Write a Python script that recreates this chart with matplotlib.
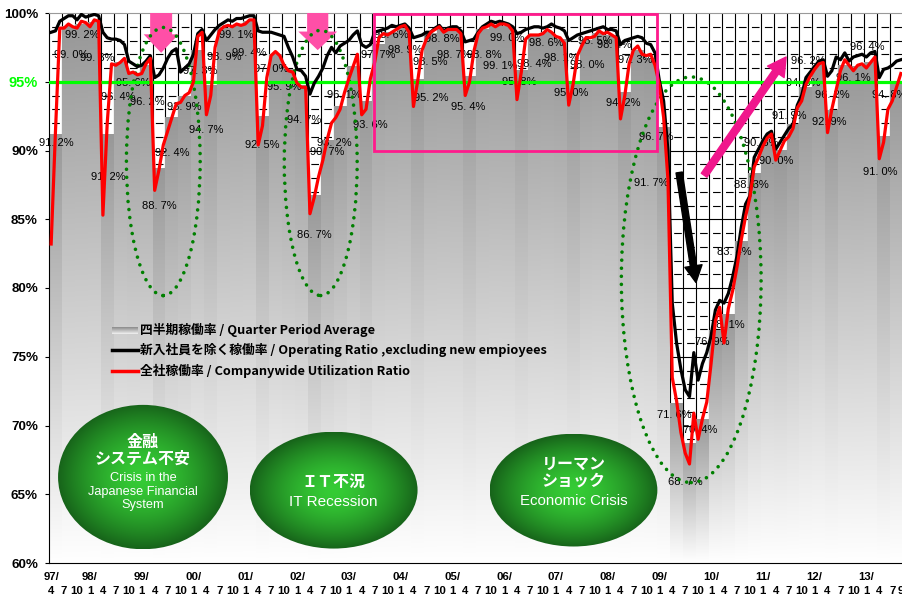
import numpy as np
import matplotlib

matplotlib.use("Agg")
import matplotlib.pyplot as plt
from matplotlib.colors import LinearSegmentedColormap, to_rgb
from matplotlib.patches import Ellipse, Rectangle, FancyArrow

plt.rcParams["lines.scale_dashes"] = False

JP = ["Noto Sans CJK JP", "DejaVu Sans"]
SANS = ["Liberation Sans", "DejaVu Sans"]

# monthly companywide utilization ratio (%), 1997/4 .. 2013/9, one row per Apr-Mar year
company_ratio = [
    83.2, 91.4, 98.9, 98.9, 99.2, 99.0, 98.9, 99.4, 99.3, 99.0, 99.5, 99.4,  # 97
    85.3, 92.0, 96.3, 96.2, 96.4, 96.7, 95.6, 95.7, 95.5, 95.6, 96.3, 96.7,  # 98
    87.1, 88.6, 90.4, 91.4, 92.4, 93.4, 93.5, 94.0, 94.2, 95.0, 98.3, 98.6,  # 99
    92.6, 94.0, 97.5, 98.7, 99.0, 99.1, 99.0, 99.2, 99.1, 99.2, 99.5, 99.5,  # 00
    90.4, 91.8, 95.3, 96.9, 97.2, 96.9, 96.2, 95.8, 95.7, 94.9, 94.6, 94.6,  # 01
    85.4, 86.6, 88.1, 89.3, 90.8, 92.0, 92.4, 93.0, 94.2, 95.2, 96.1, 97.0,  # 02
    92.6, 93.0, 95.2, 96.4, 98.2, 98.5, 98.4, 98.6, 98.8, 99.0, 99.1, 98.6,  # 03
    93.2, 95.1, 97.3, 98.1, 98.6, 98.8, 99.0, 98.6, 98.8, 98.8, 98.8, 98.5,  # 04
    94.0, 95.0, 97.2, 98.5, 98.9, 99.0, 99.2, 99.0, 99.2, 99.2, 99.1, 98.7,  # 05
    93.7, 95.7, 98.1, 98.4, 98.4, 98.4, 98.5, 98.8, 98.6, 98.3, 98.2, 97.8,  # 06
    93.3, 94.8, 96.9, 97.6, 98.2, 98.2, 98.3, 98.7, 98.5, 98.6, 98.4, 98.2,  # 07
    92.3, 94.0, 96.3, 97.3, 97.6, 97.0, 96.9, 97.0, 96.2, 94.8, 92.4, 87.9,  # 08
    73.5, 71.8, 69.5, 68.0, 67.2, 70.9, 69.0, 70.5, 71.7, 74.5, 77.6, 78.6,  # 09
    76.0, 78.5, 79.8, 81.5, 83.5, 85.2, 86.6, 88.8, 89.5, 90.3, 90.9, 91.2,  # 10
    89.3, 90.0, 90.7, 91.0, 91.6, 93.1, 93.6, 94.8, 95.4, 95.9, 96.3, 96.4,  # 11
    91.3, 93.0, 94.4, 95.8, 96.6, 96.2, 95.8, 96.2, 96.3, 96.0, 96.4, 96.8,  # 12
    89.4, 90.6, 93.0, 93.6, 94.6, 95.6,                                      # 13
]

# monthly operating ratio excluding new employees (%)
excl_new_ratio = [
    98.6, 98.7, 99.4, 99.6, 99.8, 99.8, 99.5, 99.9, 99.7, 99.8, 99.9, 99.8,
    98.6, 98.2, 98.1, 98.1, 98.0, 97.7, 96.5, 96.3, 96.1, 96.2, 96.5, 96.9,
    95.3, 95.5, 96.0, 96.7, 97.2, 97.4, 95.7, 96.0, 96.3, 97.0, 98.5, 98.8,
    98.0, 98.4, 98.8, 99.1, 99.3, 99.5, 99.4, 99.6, 99.6, 99.7, 99.8, 99.8,
    98.7, 98.6, 98.6, 98.6, 98.5, 98.4, 98.3, 97.5, 96.8, 95.9, 95.8, 95.4,
    94.1, 94.9, 95.4, 96.0, 96.9, 97.5, 97.1, 97.6, 97.8, 98.0, 98.4, 98.7,
    97.7, 97.5, 97.7, 98.6, 98.7, 98.8, 98.9, 99.1, 99.0, 99.1, 99.2, 98.9,
    98.2, 98.3, 98.4, 98.6, 98.6, 98.9, 99.1, 98.7, 98.9, 99.0, 99.0, 98.7,
    97.9, 98.0, 98.1, 98.6, 99.0, 99.2, 99.4, 99.3, 99.4, 99.3, 99.2, 99.0,
    98.5, 98.6, 98.8, 98.9, 99.0, 99.0, 98.9, 99.0, 99.2, 99.0, 98.9, 98.7,
    98.0, 98.2, 98.4, 98.5, 98.6, 98.7, 98.8, 98.9, 99.0, 98.8, 98.8, 98.7,
    97.7, 98.0, 98.1, 98.2, 98.3, 98.2, 97.8, 97.7, 97.1, 95.1, 93.6, 90.0,
    78.9, 76.0, 74.1, 72.6, 72.1, 75.3, 73.3, 74.5, 75.3, 76.5, 78.4, 79.1,
    78.9, 79.6, 80.8, 82.3, 84.4, 86.1, 86.7, 89.5, 90.1, 90.7, 91.2, 91.4,
    90.1, 90.6, 91.1, 91.6, 91.9, 93.3, 94.0, 95.3, 95.7, 96.1, 96.5, 96.6,
    95.4, 95.8, 96.8, 96.6, 97.1, 96.5, 96.8, 96.9, 97.0, 96.8, 97.1, 97.2,
    95.3, 95.9, 96.0, 96.2, 96.5, 96.6,
]

# quarter period average (%), 97/4-6 .. 13/7-9
quarter_avg = [
    91.2, 99.0, 99.2, 99.3, 91.2, 96.4, 95.6, 96.2, 88.7, 92.4, 93.9, 97.3,
    94.7, 98.9, 99.1, 99.4, 92.5, 97.0, 95.9, 94.7, 86.7, 90.7, 93.2, 96.1,
    93.6, 97.7, 98.6, 98.9, 95.2, 98.5, 98.8, 98.7, 95.4, 98.8, 99.1, 99.0,
    95.8, 98.4, 98.6, 98.1, 95.0, 98.0, 98.5, 98.4, 94.2, 97.3, 96.7, 91.7,
    71.6, 68.7, 70.4, 76.9, 78.1, 83.4, 88.3, 90.8, 90.0, 91.9, 94.6, 96.2,
    92.9, 96.2, 96.1, 96.4, 91.0, 94.8,
]

quarter_months = ["4", "7", "10", "1"]
year_labels = ["97/", "98/", "99/", "00/", "01/", "02/", "03/", "04/", "05/",
               "06/", "07/", "08/", "09/", "10/", "11/", "12/", "13/"]

# pixel nudges of the value labels (dx right, dy down from the bar top)
label_nudge = [
    (1, 9), (3, 28), (1, 11), (3, 35), (1, 43), (-2, 34), (0, 10), (1, 37),
    (0, 38), (0, 35), (-1, 10), (2, 21), (-5, 44), (1, 29), (0, 10), (0, 32),
    (0, 29), (-4, 15), (-4, 18), (3, 34), (0, 39), (0, 11), (-6, 37), (-9, 28),
    (4, 24), (-1, 10), (-1, 3), (0, 22), (13, 19), (0, 28), (-1, 10), (-2, 24),
    (-1, 31), (2, 25), (5, 41), (-1, 11), (-2, 11), (0, 29), (-1, 11), (1, 19),
    (-2, 11), (1, 25), (-4, 7), (2, 10), (-2, 10), (-2, 10), (6, 79), (-12, 56),
    (-2, 11), (-4, 39), (-2, 10), (-3, 11), (-1, 11), (-7, 11), (-3, 11), (-6, 4),
    (-4, 11), (-4, -8), (-3, -4), (-11, -4), (-3, 11), (-12, 30), (-4, 11),
    (-3, -16), (-3, 35), (-7, 10),
]


def bubble(ax, cx, cy, w, h):
    yy, xx = np.mgrid[-1:1:240j, -1:1:240j]
    t = np.clip(np.hypot(xx, yy), 0, 1) ** 1.6
    inner = np.array(to_rgb("#35cc35"))
    outer = np.array(to_rgb("#17641a"))
    img = inner * (1 - t[..., None]) + outer * t[..., None]
    im = ax.imshow(img, extent=(cx - w / 2, cx + w / 2, cy - h / 2, cy + h / 2),
                   aspect="auto", zorder=6, interpolation="bilinear")
    clip = Ellipse((cx, cy), w, h, facecolor="none", edgecolor="none")
    ax.add_patch(clip)
    im.set_clip_path(clip)


def main():
    fig = plt.figure(figsize=(9.03, 6.01), dpi=100)
    ax = fig.add_axes([49 / 903, 38 / 601, 854 / 903, 550 / 601])
    months = np.arange(len(company_ratio))

    # grid, covered by the bars below their tops
    for q in range(1, len(quarter_avg) + 1):
        ax.axvline(3 * q - 0.5, color="black", lw=0.8, zorder=1)
    for lvl in range(61, 100):
        if lvl % 5 == 0:
            ax.axhline(lvl, color="black", lw=0.8, zorder=1)
        else:
            ax.axhline(lvl, color="black", lw=0.8, zorder=1,
                       linestyle=(7.4, (5.5, 3.83)))

    # quarter average bars with a vertical fade
    bar_cmap = LinearSegmentedColormap.from_list("bar", ["#989898", "#ffffff"])
    grad = np.linspace(0, 1, 256).reshape(-1, 1)
    for q, v in enumerate(quarter_avg):
        ax.imshow(grad, cmap=bar_cmap, extent=(3 * q - 0.5, 3 * q + 2.5, 60, v),
                  aspect="auto", origin="upper", zorder=2, interpolation="bilinear")

    # value labels
    for q, v in enumerate(quarter_avg):
        dx, dy = label_nudge[q]
        ax.annotate(f"{v:.1f}".replace(".", ". ") + "%", (3 * q + 1, v),
                    xytext=(dx, -dy), textcoords="offset pixels",
                    ha="center", va="center", fontsize=8, family=SANS,
                    color="black", zorder=3.3)

    ax.axhline(95, color="#00ff00", lw=2.3, zorder=3.8)

    # dotted ellipses around the three slumps
    for (cx, cy, w, h) in [(26.0, 89.2, 17.1, 19.5), (62.5, 89.1, 16.9, 19.3),
                           (148.4, 80.6, 32.4, 29.5)]:
        ax.add_patch(Ellipse((cx, cy), w, h, fill=False, edgecolor="#008000",
                             lw=2.6, linestyle=(0, (0.01, 5.8)),
                             capstyle="round", zorder=3.6))

    ax.plot(months, excl_new_ratio, color="black", lw=2.3, zorder=4,
            solid_joinstyle="round")
    ax.plot(months, company_ratio, color="#ff0000", lw=2.3, zorder=4.1,
            solid_joinstyle="round")

    # pink drop arrows
    for cx, tip, sw, hw in [(25.5, 97.1, 5.1, 8.1), (61.8, 97.3, 4.9, 9.0)]:
        ax.add_patch(FancyArrow(cx, 100.0, 0, tip - 100.0, width=sw, head_width=hw,
                                head_length=1.35, length_includes_head=True,
                                color="#ff4fa7", lw=0, zorder=3.5))

    ax.add_patch(Rectangle((74.8, 90.0), 65.7, 9.9, fill=False,
                           edgecolor="#ff1a8c", lw=2.0, zorder=5, clip_on=False))

    ax.annotate("", xy=(170.4, 96.8), xytext=(151.4, 88.2),
                arrowprops=dict(arrowstyle="simple,head_length=1.3,head_width=1.45,tail_width=0.5",
                                color="#f0168c", mutation_scale=10, shrinkA=0, shrinkB=0),
                zorder=5)
    ax.annotate("", xy=(149.5, 80.4), xytext=(145.6, 88.4),
                arrowprops=dict(arrowstyle="simple,head_length=1.2,head_width=1.25,tail_width=0.45",
                                color="black", mutation_scale=10, shrinkA=0, shrinkB=0),
                zorder=5)

    # green bubbles
    bubble(ax, 21.3, 66.25, 39.4, 10.5)
    bubble(ax, 65.5, 65.3, 38.9, 8.5)
    bubble(ax, 121.1, 65.3, 38.9, 8.2)
    jp_kw = dict(color="white", fontsize=11.5, fontweight="bold", family=JP,
                 ha="center", va="center", zorder=7, linespacing=1.1)
    en_kw = dict(color="white", fontsize=9.2, family=SANS, ha="center",
                 va="center", zorder=7, linespacing=1.15)
    ax.text(21.3, 68.2, "金融\nシステム不安", **jp_kw)
    ax.text(21.3, 65.2, "Crisis in the\nJapanese Financial\nSystem", **en_kw)
    ax.text(65.5, 65.9, "ＩＴ不況", **jp_kw)
    ax.text(65.5, 64.4, "IT Recession", **dict(en_kw, fontsize=11))
    ax.text(121.1, 66.6, "リーマン\nショック", **jp_kw)
    ax.text(121.1, 64.5, "Economic Crisis", **dict(en_kw, fontsize=10.8))

    # legend
    leg_rows = [0.423, 0.387, 0.349]
    ax.imshow(grad, cmap=LinearSegmentedColormap.from_list("lg", ["#8a8a8a", "#f2f2f2"]),
              extent=(0.0738, 0.1042, leg_rows[0] - 0.006, leg_rows[0] + 0.006),
              transform=ax.transAxes, aspect="auto", zorder=7)
    ax.plot([0.0738, 0.1042], [leg_rows[1]] * 2, color="black", lw=2.5,
            transform=ax.transAxes, zorder=7)
    ax.plot([0.0738, 0.1042], [leg_rows[2]] * 2, color="#ff0000", lw=2.5,
            transform=ax.transAxes, zorder=7)
    leg_texts = ["四半期稼働率 / Quarter Period Average",
                 "新入社員を除く稼働率 / Operating Ratio ,excluding new empioyees",
                 "全社稼働率 / Companywide Utilization Ratio"]
    for yy, txt in zip(leg_rows, leg_texts):
        ax.text(0.1066, yy, txt, transform=ax.transAxes, fontsize=9.2,
                fontweight="bold", family=JP, va="center", zorder=7)

    # axes
    ax.set_xlim(-0.5, 197.2)
    ax.set_ylim(60, 100)
    ax.spines["right"].set_visible(False)
    ax.spines["top"].set_color("#999999")
    ax.set_yticks(range(60, 101, 5))
    ax.set_yticklabels([f"{t}%" for t in range(60, 101, 5)])
    for lab in ax.get_yticklabels():
        lab.set_family(SANS)
        lab.set_fontweight("bold")
        lab.set_fontsize(9.6)
        if lab.get_text() == "95%":
            lab.set_color("#00ff00")
            lab.set_fontsize(10.5)
    ax.tick_params(axis="y", length=3, pad=5)
    ax.set_xticks([])
    ax.set_xticks([3 * q - 0.5 for q in range(1, len(quarter_avg) + 1)], minor=True)
    ax.tick_params(axis="x", which="minor", direction="in", length=3)

    xt = ax.get_xaxis_transform()
    tick_kw = dict(transform=xt, ha="center", va="center", fontsize=8.2,
                   fontweight="bold", family=SANS, clip_on=False)
    for q in range(len(quarter_avg)):
        ax.text(3 * q, -0.05, quarter_months[q % 4], **tick_kw)
    ax.text(len(company_ratio) - 1, -0.05, "9", **tick_kw)
    for i, yl in enumerate(year_labels):
        pos = 0 if i == 0 else 9 + 12 * (i - 1)
        ax.text(pos, -0.026, yl, **tick_kw)

    fig.savefig("out.png", dpi=100)


if __name__ == "__main__":
    main()
